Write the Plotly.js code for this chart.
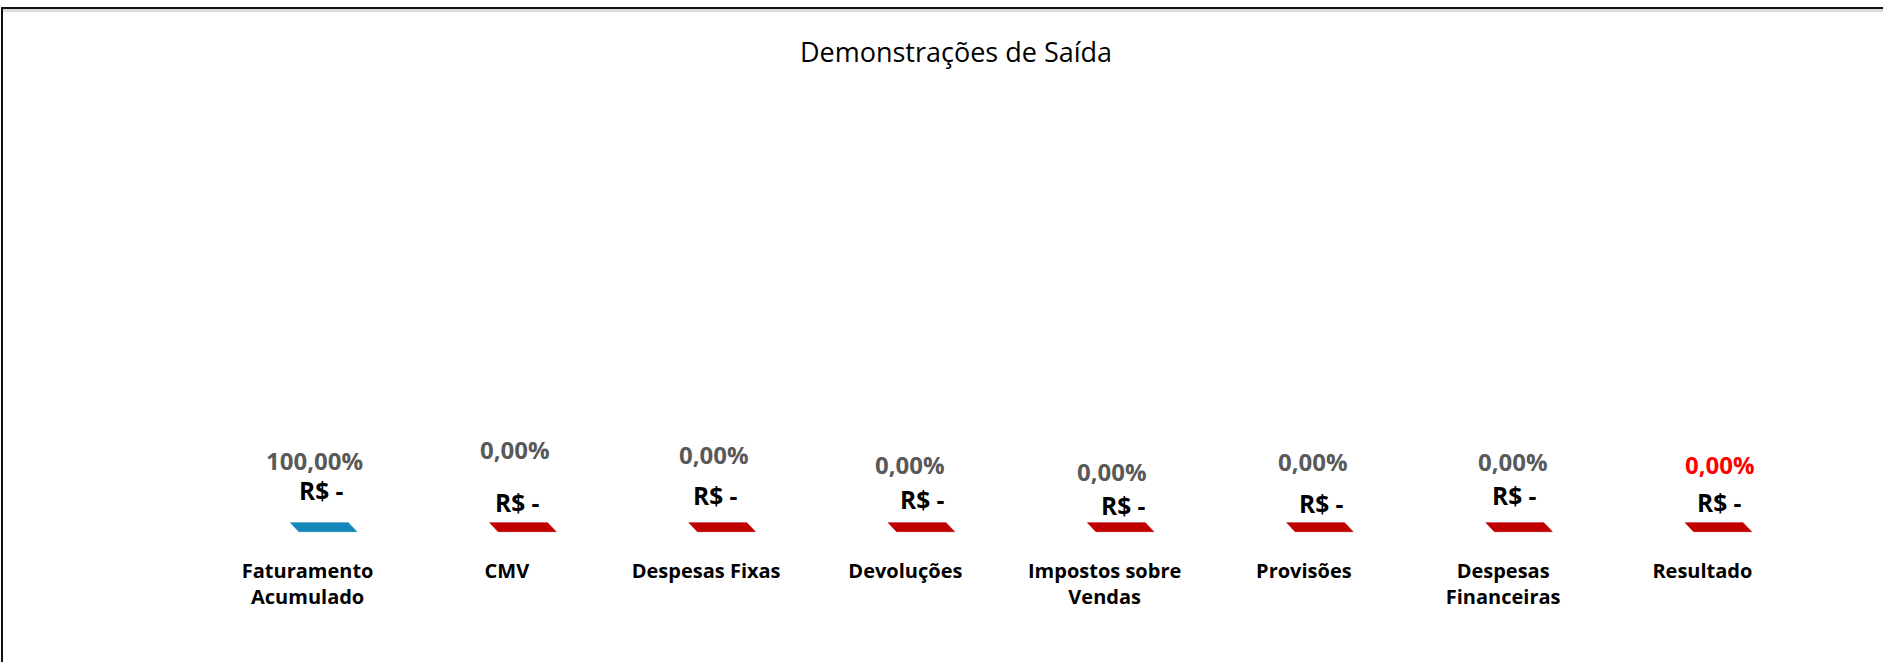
<!DOCTYPE html>
<html>
<head>
<meta charset="utf-8">
<script src="https://cdn.plot.ly/plotly-3.0.1.min.js"></script>
<style>
  html, body { margin: 0; padding: 0; background: #ffffff; overflow: hidden; }
  .rule { position: absolute; }
  #topLine  { left: 1px; top: 7px; width: 1882px; height: 2px; background: #111; z-index: 3; }
  #topShade { left: 3px; top: 9px; width: 1880px; height: 3px; background: #dcdcdc; z-index: 3; }
  #leftLine { left: 1px; top: 7px; width: 2px; height: 655px; background: #111; z-index: 3; }
  #rightPad { left: 1860px; top: 12px; width: 40px; height: 660px; background: #ffffff; z-index: 2; }
  #chart { position: absolute; left: 0; top: 0; width: 1883px; height: 662px; z-index: 1; }
</style>
</head>
<body>
<div class="rule" id="topLine"></div>
<div class="rule" id="topShade"></div>
<div class="rule" id="leftLine"></div>
<div class="rule" id="rightPad"></div>
<div id="chart"></div>
<script>
// ---- data ----
const categories = ["Faturamento Acumulado", "CMV", "Despesas Fixas", "Devoluções",
                    "Impostos sobre Vendas", "Provisões", "Despesas Financeiras", "Resultado"];
const valuesBRL = [0, 0, 0, 0, 0, 0, 0, 0];          // R$ values (all shown as "R$ -")
const percents  = [100, 0, 0, 0, 0, 0, 0, 0];        // share of revenue
const chartTitle = "Demonstrações de Saída";

// ---- style ----
const barColors = ["#1487BA", "#C00000", "#C00000", "#C00000", "#C00000", "#C00000", "#C00000", "#C00000"];
const pctColors = ["#595959", "#595959", "#595959", "#595959", "#595959", "#595959", "#595959", "#FF0000"];
// label nudges in pixels (as placed in the original)
const pctDx = [-9, -8, -8, -11, -9, -7, -6.5, 2];
const pctDy = [71, 82, 77, 67, 60, 70, 70, 67];
const valDx = [-2, -5, -7, 1.5, 3, 2, -5, 1];
const valDy = [41, 29, 36, 32, 26, 28, 36, 29];

const W = 1883, H = 662;
const margin = { l: 224.4, r: 65.4, t: 100, b: 117 };
const xRange = [-0.5, 7.5], yRange = [-3, 97];
const plotW = W - margin.l - margin.r, plotH = H - margin.t - margin.b;
const pxX = plotW / (xRange[1] - xRange[0]);   // px per x unit
const pxY = plotH / (yRange[1] - yRange[0]);   // px per y unit

// bar-top geometry (pixels -> axis units)
const halfW = 29 / pxX, skew = 4.25 / pxX, depth = 9 / pxY;

function wrap(label, max) {
  const words = label.split(" "); const lines = []; let cur = "";
  words.forEach(w => {
    if (cur && (cur + " " + w).length > max) { lines.push(cur); cur = w; }
    else cur = cur ? cur + " " + w : w;
  });
  if (cur) lines.push(cur);
  return lines.join("<br>");
}
const fmtPct = p => p.toFixed(2).replace(".", ",") + "%";
const fmtBRL = v => v === 0 ? "R$ -" : "R$ " + v.toLocaleString("pt-BR", { minimumFractionDigits: 2, maximumFractionDigits: 2 });

const idx = categories.map((_, i) => i);

const traces = [{
  type: "bar", x: idx, y: valuesBRL, width: 2 * halfW,
  marker: { color: barColors, line: { width: 0 } },
  hoverinfo: "skip", showlegend: false
}];

// top face of each 3D bar, sitting at the bar's value
idx.forEach(i => {
  const v = valuesBRL[i];
  traces.push({
    type: "scatter", mode: "lines", fill: "toself",
    x: [i - halfW + skew, i + halfW + skew, i + halfW - skew, i - halfW - skew, i - halfW + skew],
    y: [v, v, v + depth, v + depth, v],
    fillcolor: barColors[i], line: { width: 0.6, color: barColors[i] },
    hoverinfo: "skip", showlegend: false
  });
});

const annotations = [];
idx.forEach(i => {
  annotations.push({
    x: i, y: valuesBRL[i], xref: "x", yref: "y", showarrow: false,
    text: fmtPct(percents[i]), xshift: pctDx[i], yshift: pctDy[i],
    font: { family: "Open Sans", size: 24, color: pctColors[i], weight: "bold" }
  });
  annotations.push({
    x: i, y: valuesBRL[i], xref: "x", yref: "y", showarrow: false,
    text: fmtBRL(valuesBRL[i]), xshift: valDx[i], yshift: valDy[i],
    font: { family: "Open Sans", size: 24.5, color: "#000000", weight: "bold" }
  });
});

const layout = {
  width: W, height: H, margin: margin,
  paper_bgcolor: "rgba(0,0,0,0)", plot_bgcolor: "rgba(0,0,0,0)",
  title: {
    text: chartTitle, xref: "container", yref: "container",
    x: 956 / W, xanchor: "center", y: 1 - 53 / H, yanchor: "middle",
    font: { family: "Open Sans", size: 27, color: "#000000" }
  },
  xaxis: {
    range: xRange, tickmode: "array", tickvals: idx,
    ticktext: categories.map(c => wrap(c, 14)),
    showgrid: false, zeroline: false, showline: false, ticks: "", ticklen: 0,
    ticklabelshift: -16, ticklabelstandoff: 12,
    tickfont: { family: "Open Sans", size: 20, color: "#000000", weight: "bold" },
    fixedrange: true
  },
  yaxis: { range: yRange, visible: false, showgrid: false, zeroline: false, fixedrange: true },
  annotations: annotations,
  showlegend: false
};

Plotly.newPlot("chart", traces, layout, { staticPlot: true, displayModeBar: false });
</script>
</body>
</html>
